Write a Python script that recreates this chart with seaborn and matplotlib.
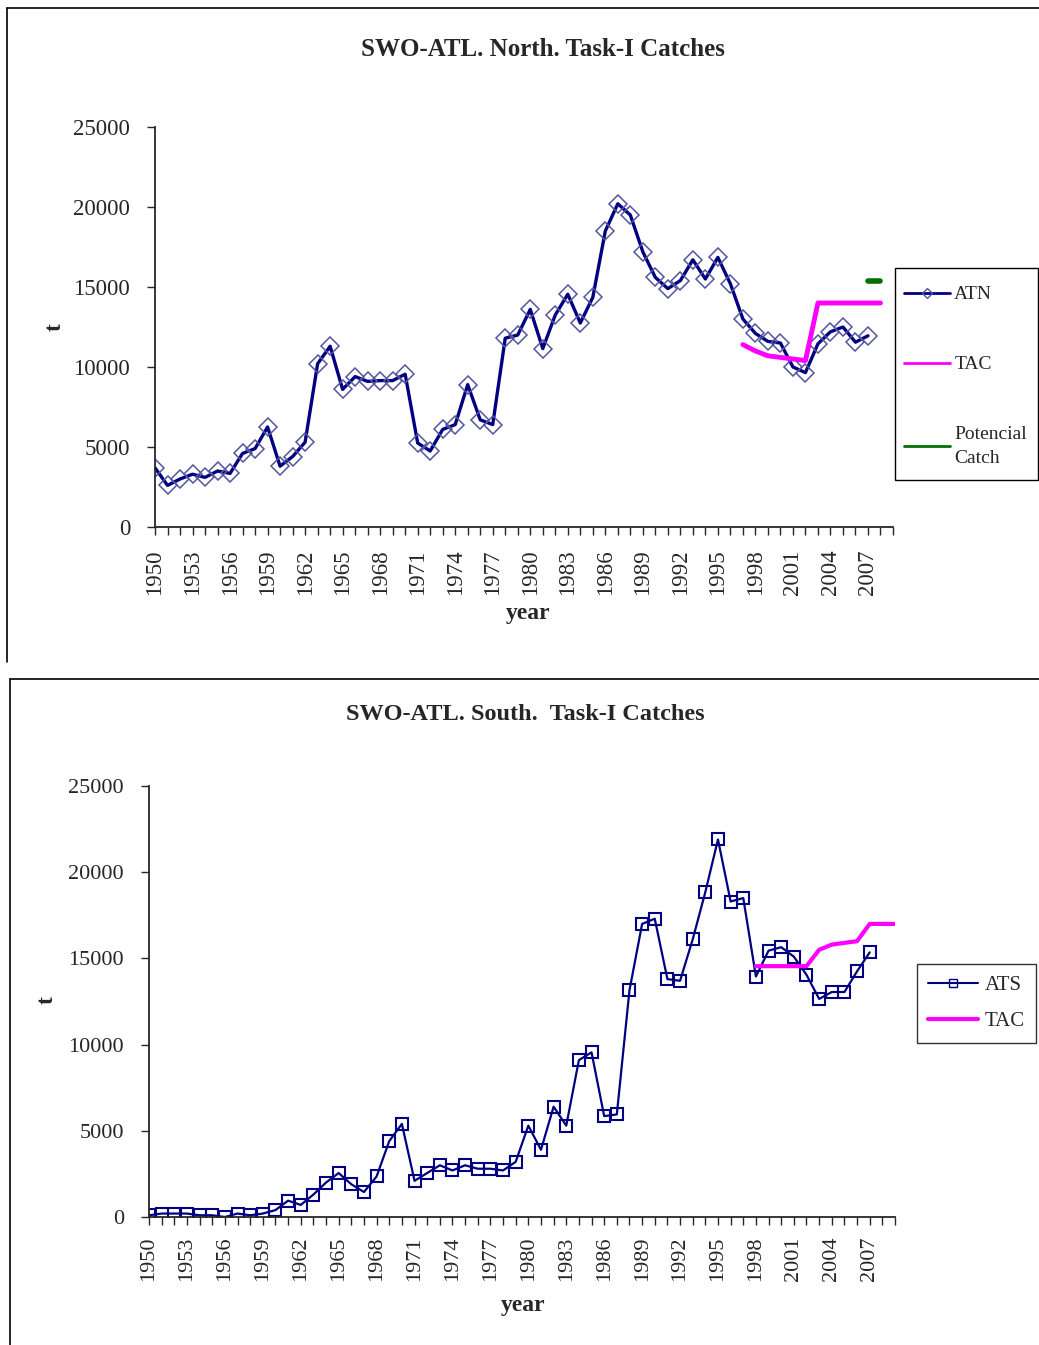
import numpy as np
import pandas as pd
import matplotlib.pyplot as plt
import seaborn as sns
from matplotlib.lines import Line2D
from matplotlib.patches import Rectangle
from matplotlib.ticker import FixedLocator, FuncFormatter

# North: Task-I catches (t)
north_years = list(range(1950, 2008))
atn = [3700, 2600, 3000, 3300, 3100, 3500, 3350, 4600, 4900, 6250,
       3800, 4400, 5300, 10200, 11300, 8600, 9400, 9100, 9150, 9150,
       9550, 5250, 4750, 6100, 6400, 8900, 6700, 6400, 11800, 12000,
       13600, 11150, 13250, 14550, 12750, 14350, 18500, 20200, 19500, 17200,
       15600, 14900, 15400, 16700, 15500, 16850, 15200, 13000, 12100, 11600,
       11500, 10000, 9650, 11450, 12200, 12500, 11550, 11950]
tac_north_years = list(range(1997, 2009))
tac_north = [11400, 11000, 10700, 10600, 10500, 10400, 14000, 14000, 14000, 14000, 14000, 14000]
pot_years = [2007, 2008]
pot_catch = [15400, 15400]

# South: Task-I catches (t)
south_years = list(range(1950, 2008))
ats = [100, 200, 200, 200, 100, 100, 0, 200, 100, 200,
       400, 950, 700, 1300, 2000, 2550, 1900, 1450, 2350, 4400,
       5400, 2100, 2550, 3000, 2700, 3000, 2800, 2800, 2700, 3200,
       5300, 3900, 6400, 5300, 9100, 9550, 5850, 5950, 13150, 17000,
       17300, 13800, 13700, 16100, 18850, 21900, 18300, 18500, 13950, 15450,
       15650, 15100, 14050, 12650, 13050, 13050, 14250, 15350]
tac_south_years = list(range(1998, 2010))
tac_south = [14550, 14550, 14550, 14550, 14550, 15500, 15800, 15900, 16000, 17000, 17000, 17000]

yticks = [0, 5000, 10000, 15000, 20000, 25000]
all_years = list(range(1950, 2010))

sns.set_style("ticks")
plt.rcParams['font.family'] = ['Liberation Serif', 'DejaVu Serif']

W, H = 1039, 1345
fig = plt.figure(figsize=(W / 100, H / 100), dpi=100)

def fx(x):
    return x / W

def fy(y):
    return 1 - y / H

def style_axis(ax, fs, xpad):
    ax.set_xlim(1950, 2009)
    ax.set_ylim(0, 25000)
    ax.set_yticks(yticks)
    ax.xaxis.set_major_locator(FixedLocator(all_years))
    ax.xaxis.set_major_formatter(FuncFormatter(lambda v, p: str(int(v)) if (int(round(v)) - 1950) % 3 == 0 else ''))
    ax.tick_params(axis='x', labelrotation=90, length=6, width=1, direction='out', labelsize=fs, pad=xpad)
    ax.tick_params(axis='y', length=6, width=1, direction='out', labelsize=fs, pad=12)
    sns.despine(ax=ax)
    for s in ['left', 'bottom']:
        ax.spines[s].set_linewidth(1.3)
    ax.set_xlabel('')
    ax.set_ylabel('')

# ---- top panel
ax1 = fig.add_axes([fx(155), fy(527), fx(893) - fx(155), fy(127) - fy(527)])
sns.lineplot(x=north_years, y=atn, ax=ax1, color='#000080', lw=2.4, marker='D', markersize=9,
             markerfacecolor='none', markeredgecolor='#55559f', markeredgewidth=1.1, label='ATN')
sns.lineplot(x=tac_north_years, y=tac_north, ax=ax1, color='#ff00ff', lw=3.5, label='TAC')
sns.lineplot(x=pot_years, y=pot_catch, ax=ax1, color='#007000', lw=4, label='Potencial\nCatch')
style_axis(ax1, 16.5, 10)
ax1.get_legend().remove()

h1 = [Line2D([], [], color='#000080', lw=2, marker='D', markersize=5, markerfacecolor='none',
             markeredgecolor='#55559f'),
      Line2D([], [], color='#ff00ff', lw=2),
      Line2D([], [], color='#007000', lw=2)]
leg1 = fig.legend(h1, ['ATN', 'TAC', 'Potencial\nCatch'], loc='upper left',
                  bbox_to_anchor=(fx(895), fy(277)), borderaxespad=0, fontsize=14,
                  frameon=False, handlelength=2.4, handletextpad=0.2, labelspacing=2.7,
                  borderpad=0.45)
for t in leg1.get_texts():
    t.set_linespacing(1.55)
fig.add_artist(Rectangle((fx(895), fy(480)), fx(1038) - fx(895), fy(268) - fy(480),
                         transform=fig.transFigure, fill=False, edgecolor='black', lw=1))

fig.text(fx(543), fy(49), 'SWO-ATL. North. Task-I Catches', ha='center', va='center',
         fontsize=18, fontweight='bold')
fig.text(fx(55), fy(327), 't', ha='center', va='center', rotation=90, fontsize=17, fontweight='bold')
fig.text(fx(528), fy(614), 'year', ha='center', va='center', fontsize=17, fontweight='bold')

# ---- bottom panel
ax2 = fig.add_axes([fx(149), fy(1217), fx(895) - fx(149), fy(786) - fy(1217)])
sns.lineplot(x=south_years, y=ats, ax=ax2, color='#000080', lw=1.6, marker='s', markersize=8.5,
             markerfacecolor='none', markeredgecolor='#000080', markeredgewidth=1.5, label='ATS')
sns.lineplot(x=tac_south_years, y=tac_south, ax=ax2, color='#ff00ff', lw=3, label='TAC')
style_axis(ax2, 16, 8)
ax2.get_legend().remove()

h2 = [Line2D([], [], color='#000080', lw=1.5, marker='s', markersize=6, markerfacecolor='none',
             markeredgecolor='#000080'),
      Line2D([], [], color='#ff00ff', lw=3)]
leg2 = fig.legend(h2, ['ATS', 'TAC'], loc='upper left',
                  bbox_to_anchor=(fx(917), fy(964)), borderaxespad=0, fontsize=15,
                  frameon=True, fancybox=False, edgecolor='black', handlelength=2.4,
                  handletextpad=0.3, labelspacing=0.8, borderpad=0.55)
leg2.get_frame().set_linewidth(1)

fig.text(fx(525), fy(714), 'SWO-ATL. South.  Task-I Catches', ha='center', va='center',
         fontsize=17.5, fontweight='bold')
fig.text(fx(47), fy(1000), 't', ha='center', va='center', rotation=90, fontsize=17, fontweight='bold')
fig.text(fx(523), fy(1306), 'year', ha='center', va='center', fontsize=17, fontweight='bold')

# panel borders
for xs, ys in [([7, 1039], [8, 8]), ([7, 7], [8, 662]),
               ([10, 1039], [679, 679]), ([10, 10], [679, 1345])]:
    fig.add_artist(Line2D([fx(v) for v in xs], [fy(v) for v in ys], color='black', lw=1.2))

fig.savefig('out.png', dpi=100)
